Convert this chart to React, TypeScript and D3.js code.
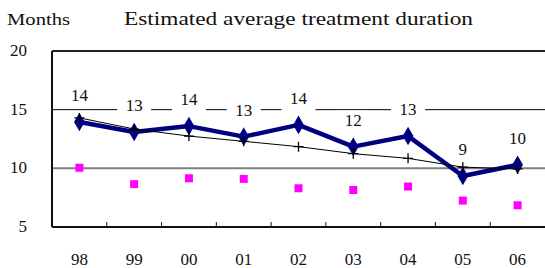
import React from "react";
import * as d3 from "d3";

// chart data
const years = ["98", "99", "00", "01", "02", "03", "04", "05", "06"];
const duration = [13.95, 13.1, 13.6, 12.7, 13.7, 11.85, 12.75, 9.35, 10.3];
const durationLabels = ["14", "13", "14", "13", "14", "12", "13", "9", "10"];
const trend = [14.3, 13.35, 12.75, 12.3, 11.85, 11.25, 10.85, 10.1, 9.95];
const other = [10.05, 8.65, 9.15, 9.1, 8.3, 8.15, 8.45, 7.25, 6.85];
const yTicks = [5, 10, 15, 20];

const W = 545;
const H = 268;
const margin = { top: 51, right: 0, bottom: 41, left: 52 };
const txt = { fontFamily: "'Liberation Serif', 'DejaVu Serif', serif" };

const App = () => {
  const x = d3
    .scaleBand()
    .domain(years)
    .range([margin.left, W - margin.right]);
  const y = d3
    .scaleLinear()
    .domain([5, 20])
    .range([H - margin.bottom, margin.top]);
  const cx = (d: string) => (x(d) || 0) + x.bandwidth() / 2;

  const mainLine = d3
    .line<number>()
    .x((_, i) => cx(years[i]))
    .y((d) => y(d));

  const x0 = margin.left;
  const x1 = W - margin.right;

  return (
    <svg
      width={W}
      height={H}
      style={{ position: "absolute", left: 0, top: 0, background: "#fff" }}
    >
      <text x={7} y={25} fontSize={17} fill="#111" style={txt} textLength={63} lengthAdjust="spacingAndGlyphs">
        Months
      </text>
      <text x={124} y={25} fontSize={19} fill="#111" style={txt} textLength={349} lengthAdjust="spacingAndGlyphs">
        Estimated average treatment duration
      </text>

      {/* grid lines */}
      <line x1={x0} x2={x1} y1={y(15)} y2={y(15)} stroke="#000" strokeWidth={1} />
      <line x1={x0} x2={x1} y1={y(10)} y2={y(10)} stroke="#808080" strokeWidth={2} />
      <line x1={x0} x2={x1} y1={y(20)} y2={y(20)} stroke="#222" strokeWidth={2} />

      {/* axes */}
      <line x1={x0} x2={x0} y1={y(20)} y2={y(5)} stroke="#111" strokeWidth={2} />
      <line x1={x0} x2={x1} y1={y(5)} y2={y(5)} stroke="#111" strokeWidth={2} />
      {years.slice(1).map((d) => (
        <line
          key={d}
          x1={x(d)}
          x2={x(d)}
          y1={y(5)}
          y2={y(5) - 5}
          stroke="#111"
          strokeWidth={1}
        />
      ))}
      {yTicks.map((t) => (
        <text
          key={t}
          x={27}
          y={y(t) + 1}
          fontSize={17}
          textAnchor="end"
          dominantBaseline="middle"
          fill="#111"
          style={txt}
        >
          {t}
        </text>
      ))}
      {years.map((d) => (
        <text
          key={d}
          x={cx(d)}
          y={261}
          fontSize={17}
          textAnchor="middle"
          dominantBaseline="middle"
          fill="#111"
          style={txt}
        >
          {d}
        </text>
      ))}

      {/* value labels with white boxes */}
      {duration.map((v, i) => (
        <g key={i} transform={`translate(${cx(years[i])},${y(v) - 25})`}>
          <rect x={-17} y={-11} width={34} height={22} fill="#fff" />
          <text
            fontSize={17}
            textAnchor="middle"
            dominantBaseline="middle"
            fill="#111"
            style={txt}
          >
            {durationLabels[i]}
          </text>
        </g>
      ))}

      {/* pink squares */}
      {other.map((v, i) => (
        <rect
          key={i}
          x={cx(years[i]) - 4}
          y={y(v) - 4}
          width={8}
          height={8}
          fill="#ff00ff"
        />
      ))}

      {/* main line */}
      <path
        d={mainLine(duration) || ""}
        fill="none"
        stroke="#000080"
        strokeWidth={4.5}
        strokeLinejoin="round"
      />
      {duration.map((v, i) => (
        <path
          key={i}
          d={d3.symbol(d3.symbolDiamond, 100)() || ""}
          transform={`translate(${cx(years[i])},${y(v)})`}
          fill="#000080"
        />
      ))}

      {/* trend line */}
      <path d={mainLine(trend) || ""} fill="none" stroke="#000" strokeWidth={1} />
      {trend.map((v, i) => (
        <path
          key={i}
          d={`M-5,0H5M0,-5V5`}
          transform={`translate(${cx(years[i])},${y(v)})`}
          stroke="#000"
          strokeWidth={1.3}
        />
      ))}
    </svg>
  );
};

export default App;
